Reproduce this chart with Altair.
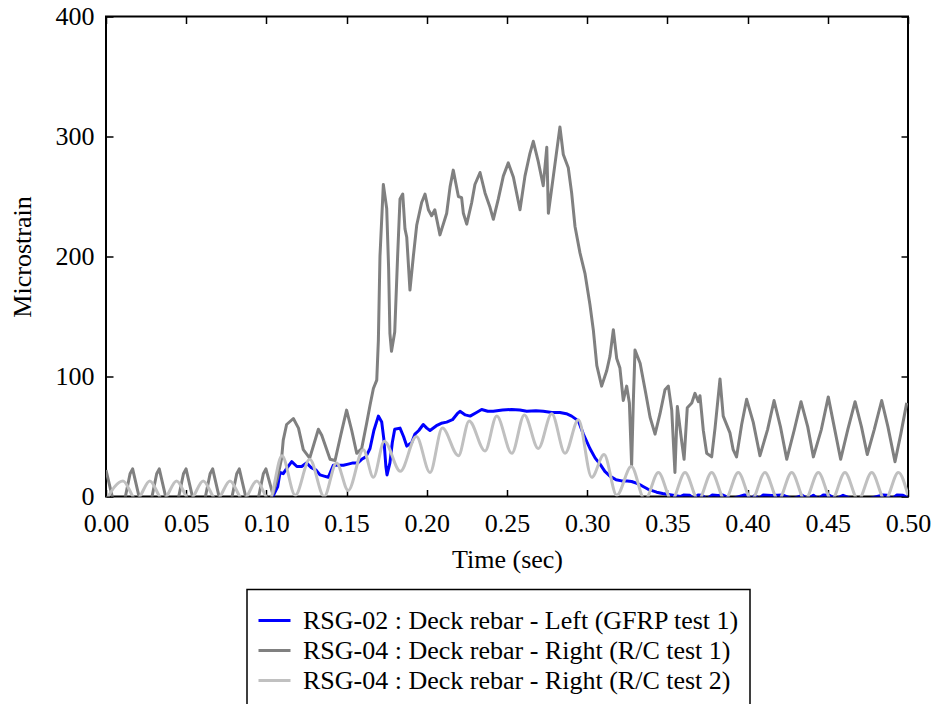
import altair as alt
import pandas as pd

SERIES = [
    "RSG-02 : Deck rebar - Left (GFRP test 1)",
    "RSG-04 : Deck rebar - Right (R/C test 1)",
    "RSG-04 : Deck rebar - Right (R/C test 2)",
]
COLORS = ["#0000ff", "#808080", "#c0c0c0"]

X_TICKS = [0.0, 0.05, 0.1, 0.15, 0.2, 0.25, 0.3, 0.35, 0.4, 0.45, 0.5]
Y_TICKS = [0, 100, 200, 300, 400]

# RSG-02 GFRP test 1 (blue)
gfrp_t = [0.1040, 0.1070, 0.1085, 0.1105, 0.1130, 0.1158, 0.1190, 0.1220, 0.1250, 0.1280,
          0.1310, 0.1334, 0.1360, 0.1386, 0.1417, 0.1450, 0.1480, 0.1510, 0.1540, 0.1570,
          0.1594, 0.1620, 0.1646, 0.1670, 0.1698, 0.1719, 0.1732, 0.1745, 0.1752, 0.1770,
          0.1785, 0.1800, 0.1833, 0.1855, 0.1875, 0.1906, 0.1926, 0.1950, 0.1978, 0.2000,
          0.2020, 0.2060, 0.2090, 0.2124, 0.2160, 0.2190, 0.2207, 0.2240, 0.2270, 0.2310,
          0.2342, 0.2380, 0.2414, 0.2472, 0.2529, 0.2580, 0.2623, 0.2680, 0.2726, 0.2780,
          0.2830, 0.2870, 0.2903, 0.2945, 0.2976, 0.3017, 0.3050, 0.3080, 0.3110, 0.3142,
          0.3180, 0.3215, 0.3250, 0.3277, 0.3310, 0.3340, 0.3380, 0.3433, 0.3470, 0.3516,
          0.3580, 0.3600, 0.3640, 0.3665, 0.3690, 0.3715, 0.3745, 0.3780, 0.3815, 0.3846,
          0.3900, 0.3980, 0.4000, 0.4025, 0.4046, 0.4070, 0.4096, 0.4150, 0.4220, 0.4280,
          0.4340, 0.4375, 0.4410, 0.4440, 0.4470, 0.4510, 0.4550, 0.4595, 0.4650, 0.4750,
          0.4844, 0.4869, 0.4900, 0.4931, 0.4969, 0.5000]
gfrp_v = [0, 8, 20, 19, 24, 29, 25, 25, 28, 24,
          22, 18, 17, 16, 26, 26, 26, 27, 28, 28,
          31, 33, 40, 55, 67, 62, 48, 25, 18, 28,
          45, 56, 57, 50, 42, 45, 52, 55, 60, 57,
          55, 59, 61, 62, 64, 69, 71, 68, 67, 70,
          72.5, 71, 71, 72, 72.5, 72, 71, 71.5, 71, 70,
          70, 69, 67, 63, 52, 40, 32, 27, 21, 17,
          14, 13, 13, 12.5, 11, 9, 6, 3.6, 2.5, 1.5,
          0, 1.2, 1.0, -2, 1.2, 1.0, -2, 1.2, 0.8, 1.2,
          -2, 1.2, 1.0, -2, 1.0, -2, 1.2, 0.8, 1.2, -2,
          1.0, -2, 1.0, -2, 1.2, 1.0, -2, 1.0, -2, -2,
          1.2, 1.0, -2, 1.2, 1.0, -1]

# RSG-04 R/C test 1 (dark grey)
rc1_t = [0.0000, 0.0083, 0.0150, 0.0166, 0.0249, 0.0316, 0.0332, 0.0415, 0.0483, 0.0499,
         0.0582, 0.0649, 0.0665, 0.0748, 0.0815, 0.0831, 0.0914, 0.0981, 0.0997, 0.1040,
         0.1070, 0.1095, 0.1105, 0.1126, 0.1168, 0.1200, 0.1230, 0.1270, 0.1324, 0.1345,
         0.1397, 0.1428, 0.1465, 0.1500, 0.1532, 0.1563, 0.1594, 0.1625, 0.1646, 0.1667,
         0.1688, 0.1698, 0.1708, 0.1729, 0.1750, 0.1762, 0.1770, 0.1780, 0.1800, 0.1818,
         0.1833, 0.1850, 0.1864, 0.1875, 0.1895, 0.1916, 0.1937, 0.1968, 0.1989, 0.2010,
         0.2030, 0.2050, 0.2082, 0.2124, 0.2145, 0.2165, 0.2197, 0.2217, 0.2228, 0.2249,
         0.2280, 0.2300, 0.2332, 0.2363, 0.2394, 0.2415, 0.2446, 0.2477, 0.2508, 0.2540,
         0.2581, 0.2612, 0.2643, 0.2664, 0.2695, 0.2726, 0.2748, 0.2758, 0.2789, 0.2830,
         0.2851, 0.2882, 0.2903, 0.2924, 0.2955, 0.2986, 0.3017, 0.3038, 0.3060, 0.3090,
         0.3122, 0.3142, 0.3163, 0.3184, 0.3204, 0.3225, 0.3246, 0.3263, 0.3277, 0.3288,
         0.3298, 0.3330, 0.3365, 0.3392, 0.3423, 0.3454, 0.3485, 0.3506, 0.3527, 0.3547,
         0.3562, 0.3590, 0.3604, 0.3624, 0.3652, 0.3672, 0.3693, 0.3703, 0.3724, 0.3745,
         0.3776, 0.3797, 0.3828, 0.3848, 0.3890, 0.3910, 0.3931, 0.3963, 0.3994, 0.4035,
         0.4077, 0.4125, 0.4165, 0.4205, 0.4244, 0.4290, 0.4333, 0.4375, 0.4410, 0.4460,
         0.4503, 0.4540, 0.4580, 0.4625, 0.4670, 0.4710, 0.4746, 0.4790, 0.4836, 0.4875,
         0.4919, 0.4955, 0.4992]
rc1_v = [22, -25, 19, 23, -25, 19, 23, -25, 19, 23,
         -25, 19, 23, -25, 19, 23, -25, 19, 23, 2,
         16, 32, 47, 60, 65, 57, 39, 32, 56, 51,
         31, 30, 52, 72, 55, 36, 40, 61, 76, 90,
         97, 130, 200, 260, 240, 190, 136, 121, 137, 200,
         248, 252, 223, 216, 172, 200, 226, 245, 252, 239,
         234, 239, 218, 236, 258, 272, 250, 249, 236, 227,
         245, 260, 270, 253, 241, 231, 248, 267, 278, 266,
         239, 267, 286, 296, 279, 259, 291, 236, 267, 308,
         285, 274, 253, 225, 203, 186, 160, 139, 109, 92,
         105, 117, 139, 115, 107, 80, 92, 78, 26, 81,
         122, 111, 86, 66, 52, 69, 89, 92, 72, 20,
         75, 45, 31, 74, 78, 86, 79, 84, 55, 36,
         33, 57, 98, 67, 53, 39, 33, 60, 81, 62,
         34, 56, 80, 58, 31, 55, 79, 58, 33, 56,
         83, 58, 31, 56, 79, 58, 35, 56, 80, 58,
         29, 52, 78]

# RSG-04 R/C test 2 (light grey)
rc2_t = [0.0000, 0.0106, 0.0190, 0.0273, 0.0356, 0.0440, 0.0523, 0.0606, 0.0690, 0.0773,
         0.0856, 0.0940, 0.1018, 0.1097, 0.1180, 0.1270, 0.1360, 0.1437, 0.1510, 0.1604,
         0.1667, 0.1735, 0.1835, 0.1935, 0.2020, 0.2097, 0.2197, 0.2264, 0.2363, 0.2436,
         0.2530, 0.2608, 0.2695, 0.2779, 0.2862, 0.2945, 0.3028, 0.3105, 0.3184, 0.3275,
         0.3360, 0.3444, 0.3527, 0.3610, 0.3693, 0.3776, 0.3859, 0.3942, 0.4025, 0.4108,
         0.4192, 0.4275, 0.4358, 0.4441, 0.4524, 0.4607, 0.4690, 0.4774, 0.4857, 0.4940,
         0.5000]
rc2_v = [-3, 13, -3, 13, -3, 13, -3, 13, -3, 13,
         -3, 13, -3, 34, 1, 31, 0, 28, 5, 39,
         16, 46, 21, 50, 20, 57, 34, 63, 38, 67,
         36, 68, 40, 69, 36, 64, 16, 35, 1, 25,
         -3, 20, -3, 20, -3, 20, -3, 20, -3, 20,
         -3, 20, -3, 20, -3, 20, -3, 20, -3, 20,
         1]

frames = []
for name, ts, vs in zip(SERIES, [gfrp_t, rc1_t, rc2_t], [gfrp_v, rc1_v, rc2_v]):
    frames.append(pd.DataFrame({"t": ts, "v": vs, "series": name}))
df = pd.concat(frames, ignore_index=True)

FONT = "Liberation Serif"
FS = 26
xs = alt.Scale(domain=[0, 0.5], nice=False, zero=False)
ys = alt.Scale(domain=[0, 400], nice=False)
cs = alt.Scale(domain=SERIES, range=COLORS)

x_axis = alt.Axis(orient="bottom", values=X_TICKS, format=".2f", offset=-7, tickSize=7,
                  tickWidth=1.5, tickColor="black", domain=False, grid=False,
                  labelFont=FONT, labelFontSize=FS, labelColor="black", labelPadding=14,
                  labelFlush=False, labelOverlap=False,
                  title="Time (sec)", titleFont=FONT, titleFontSize=FS,
                  titleFontWeight="normal", titleColor="black", titlePadding=10)
y_axis = alt.Axis(orient="left", values=Y_TICKS, format="d", offset=-7, tickSize=7,
                  tickWidth=1.5, tickColor="black", domain=False, grid=False,
                  labelFont=FONT, labelFontSize=FS, labelColor="black", labelPadding=12,
                  labelFlush=False, labelOverlap=False,
                  title="Microstrain", titleFont=FONT, titleFontSize=FS,
                  titleFontWeight="normal", titleColor="black", titlePadding=20)
top_axis = alt.Axis(orient="top", values=X_TICKS, labels=False, offset=-7, tickSize=7,
                    tickWidth=1.5, tickColor="black", domain=False, grid=False, title=None)
right_axis = alt.Axis(orient="right", values=Y_TICKS, labels=False, offset=-7, tickSize=7,
                      tickWidth=1.5, tickColor="black", domain=False, grid=False, title=None)

# legend entries (symbols + labels) come from the colour scale; its frame is drawn below
legend = alt.Legend(orient="none", legendX=142, legendY=573, direction="vertical",
                    title=" ", titleFontSize=2, titlePadding=2,
                    padding=14, cornerRadius=0,
                    symbolType="M-1.5,0H1.41", symbolSize=484, symbolStrokeWidth=3,
                    labelFont=FONT, labelFontSize=FS, labelColor="black", labelOffset=15,
                    labelLimit=0, rowPadding=4)


def line(name, interp):
    return (
        alt.Chart(df)
        .transform_filter(alt.datum.series == name)
        .mark_line(strokeWidth=3, clip=True, interpolate=interp, strokeJoin="round")
        .encode(
            x=alt.X("t:Q", scale=xs, axis=x_axis),
            y=alt.Y("v:Q", scale=ys, axis=y_axis),
            color=alt.Color("series:N", scale=cs, legend=legend),
        )
    )


lines = alt.layer(line(SERIES[0], "linear"), line(SERIES[1], "linear"),
                  line(SERIES[2], "monotone"))

# frame around the legend block (below the plot area)
legend_frame = (
    alt.Chart(pd.DataFrame({"box": ["legend"]}))
    .mark_rect(fill="white", fillOpacity=0, stroke="black", strokeWidth=1.5)
    .encode(x=alt.value(141), x2=alt.value(644), y=alt.value(573), y2=alt.value(691))
)

mirror = (
    alt.Chart(pd.DataFrame({"t": [0.0, 0.5], "v": [0, 400]}))
    .mark_point(opacity=0)
    .encode(
        x=alt.X("t:Q", scale=xs, axis=top_axis),
        y=alt.Y("v:Q", scale=ys, axis=right_axis),
    )
)

chart = (
    alt.layer(lines, mirror, legend_frame)
    .resolve_axis(x="independent", y="independent")
    .properties(
        width=802,
        height=480,
        padding={"left": 98, "top": 8.5, "right": 23, "bottom": 207.5},
        autosize=alt.AutoSizeParams(type="none"),
    )
    .configure(font=FONT)
    .configure_legend(labelFont=FONT, labelFontSize=FS, titleFont=FONT)
    .configure_view(stroke="black", strokeWidth=2)
)

chart.save("out.html", embed_options={"renderer": "svg", "actions": False})
